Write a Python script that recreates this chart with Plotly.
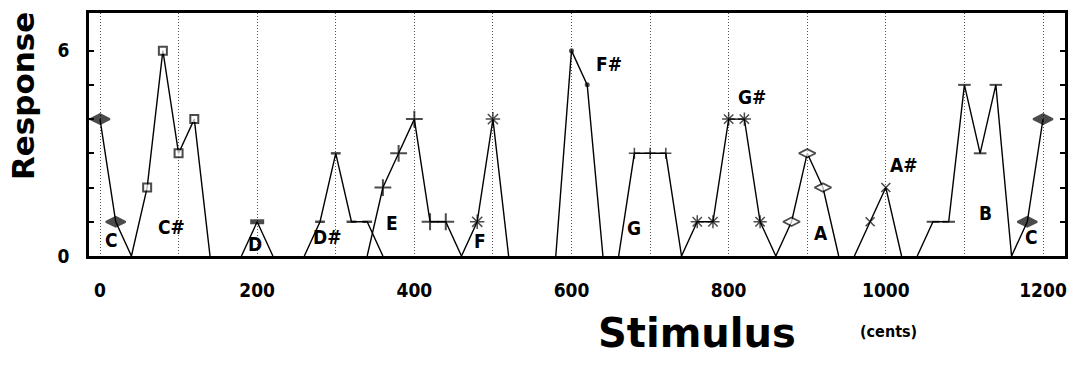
import plotly.graph_objects as go

# ---- data (cents, response) per note series ----
cents_C1 = [0, 20, 40]
resp_C1 = [4, 1, 0]
cents_Cs = [40, 60, 80, 100, 120, 140]
resp_Cs = [0, 2, 6, 3, 4, 0]
cents_D = [180, 200, 220]
resp_D = [0, 1, 0]
cents_Ds = [260, 280, 300, 320, 340, 360]
resp_Ds = [0, 1, 3, 1, 1, 0]
cents_E = [340, 360, 380, 400, 420, 440, 460]
resp_E = [0, 2, 3, 4, 1, 1, 0]
cents_F = [460, 480, 500, 520]
resp_F = [0, 1, 4, 0]
cents_Fs = [580, 600, 620, 640]
resp_Fs = [0, 6, 5, 0]
cents_G = [660, 680, 700, 720, 740]
resp_G = [0, 3, 3, 3, 0]
cents_Gs = [740, 760, 780, 800, 820, 840, 860]
resp_Gs = [0, 1, 1, 4, 4, 1, 0]
cents_A = [860, 880, 900, 920, 940]
resp_A = [0, 1, 3, 2, 0]
cents_As = [960, 980, 1000, 1020]
resp_As = [0, 1, 2, 0]
cents_B = [1040, 1060, 1080, 1100, 1120, 1140, 1160]
resp_B = [0, 1, 1, 5, 3, 5, 0]
cents_C2 = [1160, 1180, 1200]
resp_C2 = [0, 1, 4]

note_names = ["C", "C#", "D", "D#", "E", "F", "F#", "G", "G#", "A", "A#", "B", "C"]
note_label_x = [14, 91, 197, 290, 371, 484, 648, 679, 830, 917, 1023, 1127, 1185]
note_label_y = [0.46, 0.84, 0.35, 0.55, 0.95, 0.43, 5.62, 0.81, 4.65, 0.66, 2.65, 1.27, 0.55]

x_tick_vals = list(range(0, 1201, 100))
x_tick_text = ["0", "", "200", "", "400", "", "600", "", "800", "", "1000", "", "1200"]
y_tick_vals = [0, 1, 2, 3, 4, 5, 6]
y_tick_text = ["0", "", "", "", "", "", "6"]

NARROW = "DejaVu Sans Condensed, Liberation Sans Narrow, Arial Narrow, sans-serif"

# ---- styles ----
styles = [
    (cents_C1, resp_C1, dict(symbol="diamond-wide", size=14, color="black", line=dict(color="black", width=2))),
    (cents_Cs, resp_Cs, dict(symbol="square", size=8, color="white", line=dict(color="black", width=2))),
    (cents_D, resp_D, dict(symbol="line-ew", size=10, color="black", line=dict(color="black", width=5))),
    (cents_Ds, resp_Ds, dict(symbol="line-ew", size=7, color="black", line=dict(color="black", width=2.5))),
    (cents_E, resp_E, dict(symbol="cross-thin", size=12, color="black", line=dict(color="black", width=2))),
    (cents_F, resp_F, dict(symbol="asterisk", size=12, color="black", line=dict(color="black", width=1.5))),
    (cents_Fs, resp_Fs, dict(symbol="circle", size=5, color="black", line=dict(color="black", width=0))),
    (cents_G, resp_G, dict(symbol="cross-thin", size=8, color="black", line=dict(color="black", width=1.5))),
    (cents_Gs, resp_Gs, dict(symbol="asterisk", size=11, color="black", line=dict(color="black", width=1.5))),
    (cents_A, resp_A, dict(symbol="diamond-wide", size=12, color="white", line=dict(color="black", width=1.8))),
    (cents_As, resp_As, dict(symbol="x-thin", size=9, color="black", line=dict(color="black", width=1.6))),
    (cents_B, resp_B, dict(symbol="line-ew", size=9, color="black", line=dict(color="black", width=2))),
    (cents_C2, resp_C2, dict(symbol="diamond-wide", size=14, color="black", line=dict(color="black", width=2))),
]

fig = go.Figure()
for xs, ys, mk in styles:
    mk = dict(mk)
    mk["size"] = [mk["size"] if v > 0 else 0 for v in ys]
    fig.add_trace(go.Scatter(
        x=xs, y=ys, mode="lines+markers",
        line=dict(color="black", width=1.4),
        marker=mk, showlegend=False, cliponaxis=False,
    ))

label_font = dict(family=NARROW, size=19, color="black", weight="bold")
for name, lx, ly in zip(note_names, note_label_x, note_label_y):
    fig.add_annotation(x=lx, y=ly, xref="x", yref="y", text=name, showarrow=False,
                       xanchor="center", yanchor="middle", font=label_font)

L, R, T, B = 89, 12, 10, 110
W, H = 1078, 366
pw, ph = W - L - R, H - T - B

def px(x):
    return (x - L) / pw

def py(y):
    return (H - B - y) / ph

fig.add_annotation(x=px(23), y=py(94), xref="paper", yref="paper", text="Response",
                   textangle=-90, showarrow=False, xanchor="center", yanchor="middle",
                   font=dict(family="DejaVu Sans", size=31, color="black", weight="bold"))
fig.add_annotation(x=px(698), y=py(334), xref="paper", yref="paper", text="Stimulus",
                   showarrow=False, xanchor="center", yanchor="middle",
                   font=dict(family="DejaVu Sans", size=40, color="black", weight="bold"))
fig.add_annotation(x=px(889), y=py(332), xref="paper", yref="paper", text="(cents)",
                   showarrow=False, xanchor="center", yanchor="middle",
                   font=dict(family=NARROW, size=16, color="black", weight="bold"))

tickfont = dict(family=NARROW, size=19, color="black", weight="bold")

fig.update_layout(
    width=W, height=H,
    margin=dict(l=L, r=R, t=T, b=B, pad=0),
    paper_bgcolor="white", plot_bgcolor="white",
    xaxis=dict(range=[-14, 1228], tickvals=x_tick_vals, ticktext=x_tick_text,
               showgrid=True, griddash="1px,2px", gridcolor="#555", gridwidth=1,
               showline=True, linecolor="black", linewidth=2.5, mirror=True,
               ticks="", zeroline=False, ticklabelstandoff=15,
               tickfont=tickfont),
    yaxis=dict(range=[0, 7.1], tickvals=y_tick_vals, ticktext=y_tick_text,
               showgrid=False, zeroline=False,
               showline=True, linecolor="black", linewidth=2.5, mirror="allticks",
               ticks="inside", ticklen=5, tickwidth=1.5, tickcolor="black",
               ticklabelstandoff=13,
               tickfont=tickfont),
)

fig.write_html("out.html", config={"displayModeBar": False},
               post_script="document.body.style.margin='0';document.body.style.overflow='hidden';")
